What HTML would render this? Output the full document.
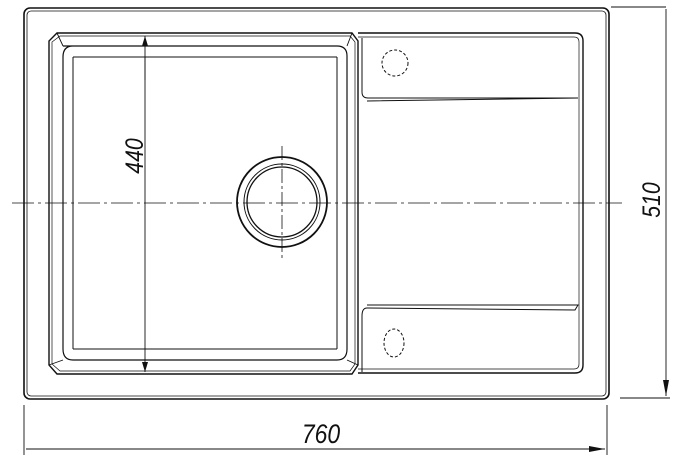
<!DOCTYPE html>
<html><head><style>body{margin:0;background:#fff}svg{display:block}text{font-family:"Liberation Sans",sans-serif;font-style:italic;fill:#111}</style></head><body>
<svg width="700" height="469" viewBox="0 0 700 469" fill="none" stroke="#111" stroke-width="1.2">
<defs><marker id="a" markerWidth="10" markerHeight="6" refX="10" refY="3" orient="auto-start-reverse" markerUnits="userSpaceOnUse"><path d="M0,0L10,3L0,6z" fill="#111" stroke="none"/></marker>
<marker id="b" markerWidth="16" markerHeight="6" refX="16" refY="3" orient="auto-start-reverse" markerUnits="userSpaceOnUse"><path d="M0,0L16,3L0,6z" fill="#111" stroke="none"/></marker></defs>
<rect x="24" y="8" width="585" height="391" rx="6" stroke-width="1.6"/>
<rect x="27" y="11" width="579" height="385" rx="4" stroke-width="0.8"/>
<path d="M57,33H352L358,41V365L352,374H57L49,365V41Z" stroke-width="1.4"/>
<path d="M60,36H350L355,42V364L350,371H60L52,364V42Z" stroke-width="0.7"/>
<path d="M63,46H337Q347,46 347,56V349Q347,360 337,360H73Q63,360 63,349V57Q63,46 73,46Z"/>
<path d="M73,57H337M73,349H337M73,57V349M337,57V349" stroke-width="1"/>
<path d="M57,33L63,46M352,33L347,46M49,365L63,360M358,365L347,360" stroke-width="0.9"/>
<path d="M358,33H575Q583,33 583,41V365Q583,373 575,373H358" stroke-width="1.4"/>
<path d="M358,37H574Q579,37 579,42V364Q579,369 574,369H358" stroke-width="0.7"/>
<path d="M362,38V92Q362,98 368,98H578" stroke-width="1"/>
<path d="M367,101L578,98M367,305H578L575,310L367,308Q362,308 362,316V372" stroke-width="1"/>
<circle cx="395" cy="63" r="13" stroke-dasharray="3,2" stroke-width="1"/>
<ellipse cx="394" cy="343" rx="10" ry="14" stroke-dasharray="3,2" stroke-width="1"/>
<circle cx="282" cy="202" r="45" stroke-width="1.8"/>
<circle cx="282" cy="202" r="38" stroke-width="1"/>
<circle cx="282" cy="202" r="35" stroke-width="1.3"/>
<path d="M12,203H622" stroke-width="0.8" stroke-dasharray="22,4,3,4"/>
<path d="M282,146V258" stroke-width="0.8" stroke-dasharray="14,3,3,3"/>
<path d="M145,57V372" stroke-width="0.9" marker-end="url(#a)"/>
<path d="M145,80V36" stroke-width="0.9" marker-end="url(#a)"/>
<text transform="translate(143,156) rotate(-90) scale(0.85,1)" text-anchor="middle" font-size="25" stroke="none">440</text>
<path d="M611,7H666M620,398H670" stroke-width="0.9"/>
<path d="M666,200V9M666,200V396" stroke-width="0.9" marker-end="url(#b)"/>
<text transform="translate(660,200) rotate(-90) scale(0.85,1)" text-anchor="middle" font-size="25" stroke="none">510</text>
<path d="M24,405V455M607,405V455" stroke-width="0.9"/>
<path d="M316,449H26M316,449H605" stroke-width="0.9" marker-end="url(#b)"/>
<text transform="translate(321,443) scale(0.85,1)" text-anchor="middle" font-size="27" stroke="none">760</text>
</svg>
</body></html>
